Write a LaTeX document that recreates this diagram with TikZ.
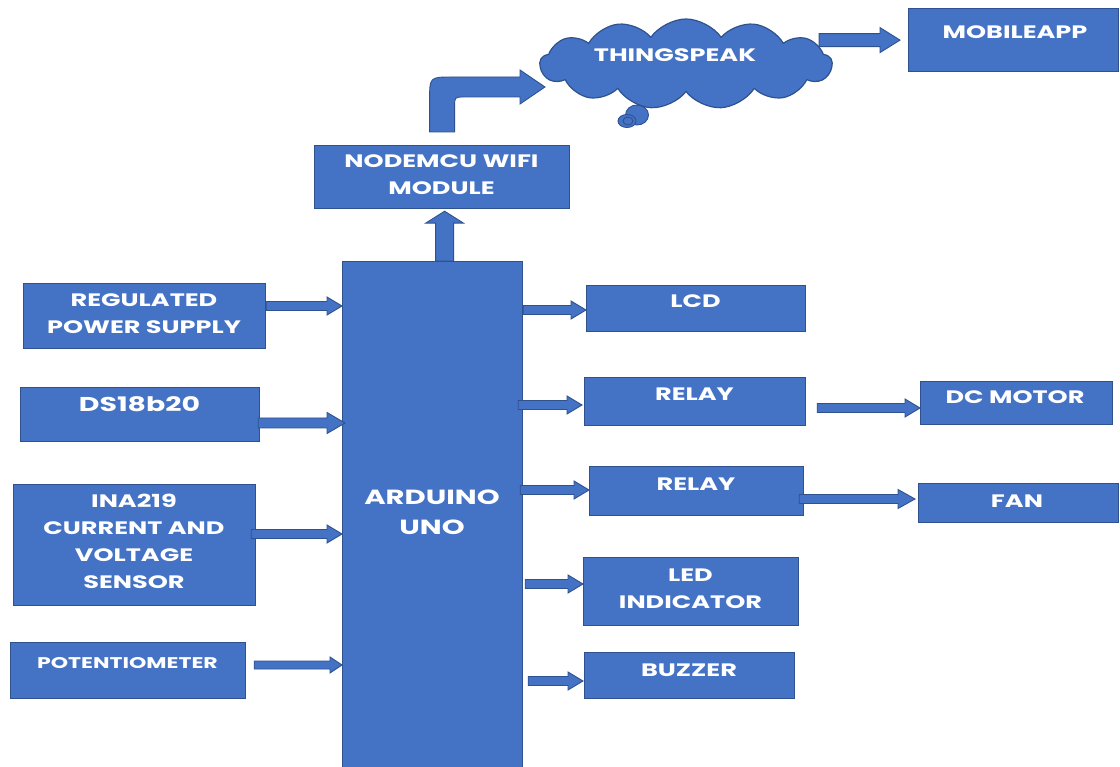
\documentclass[tikz,border=0pt]{standalone}
\usepackage{fontspec}
\newfontfamily\lblfont{Poppins}[FakeStretch=1.42]
\usetikzlibrary{shapes.symbols,calc}
\definecolor{bblue}{HTML}{4472C4}
\definecolor{bdark}{HTML}{2F528F}
\def\asw{4.5pt}\def\ahw{9pt}\def\ahl{15pt}
\tikzset{
  x={(1pt,0)}, y={(0,-1pt)},
  box/.style={draw=bdark, fill=bblue, line width=1.2pt, inner sep=0pt, anchor=north west},
  txt/.style={text=white, font=\lblfont\bfseries\fontsize{18}{27}\selectfont, align=center, inner sep=0pt},
  ashaft/.code={\def\asw{#1}},
  ahead/.code={\def\ahw{#1}},
  alen/.code={\def\ahl{#1}},
  arrowfill/.style={draw=bdark, fill=bblue, line width=0.9pt, line join=miter},
  harrow/.style={arrowfill,
    to path={let \p1=(\tikztostart), \p2=(\tikztotarget) in
      (\x1,\y1-\asw) -- (\x2-\ahl,\y1-\asw) -- (\x2-\ahl,\y1-\ahw) -- (\x2,\y1)
      -- (\x2-\ahl,\y1+\ahw) -- (\x2-\ahl,\y1+\asw) -- (\x1,\y1+\asw) -- cycle}},
  varrow/.style={arrowfill,
    to path={let \p1=(\tikztostart), \p2=(\tikztotarget) in
      (\x1-\asw,\y1) -- (\x1-\asw,\y2-\ahl) -- (\x1-\ahw,\y2-\ahl) -- (\x1,\y2)
      -- (\x1+\ahw,\y2-\ahl) -- (\x1+\asw,\y2-\ahl) -- (\x1+\asw,\y1) -- cycle}},
}
\begin{document}
\begin{tikzpicture}
\useasboundingbox (0,0) rectangle (1120,767);
\fill[white] (0,0) rectangle (1120,767);

% boxes
\node[box, minimum width=210pt, minimum height=63pt] (mob) at (908,8) {};
\node[box, minimum width=255pt, minimum height=63pt] (nm) at (314,145) {};
\node[box, minimum width=180pt, minimum height=515pt] (ard) at (342,261) {};
\node[box, minimum width=242pt, minimum height=65pt] (reg) at (23,283) {};
\node[box, minimum width=239pt, minimum height=54pt] (ds) at (20,387) {};
\node[box, minimum width=242pt, minimum height=121pt] (ina) at (13,484) {};
\node[box, minimum width=235pt, minimum height=56pt] (pot) at (10,642) {};
\node[box, minimum width=219pt, minimum height=46pt] (lcd) at (586,285) {};
\node[box, minimum width=221pt, minimum height=48pt] (rel1) at (584,377) {};
\node[box, minimum width=192pt, minimum height=43pt] (dcm) at (920,381) {};
\node[box, minimum width=214pt, minimum height=49pt] (rel2) at (589,466) {};
\node[box, minimum width=200pt, minimum height=39pt] (fan) at (918,483) {};
\node[box, minimum width=215pt, minimum height=68pt] (led) at (583,557) {};
\node[box, minimum width=210pt, minimum height=46pt] (buz) at (584,652) {};

% thought bubbles and cloud
\draw[arrowfill] (637,115) ellipse (11.5pt and 10pt);
\draw[arrowfill] (627,121) ellipse (9pt and 6.5pt);
\draw[bdark, line width=0.9pt] (628,121) ellipse (5pt and 4pt);
\node[cloud, draw=bdark, fill=bblue, line width=1.2pt, cloud puffs=13, cloud puff arc=110,
      aspect=3.1, minimum width=292pt, minimum height=90pt, inner sep=0pt] (cl) at (686,64) {};

% texts
\node[txt] (tmob) at (1015,32) {MOBILEAPP};
\node[txt] (tcl) at (675,55.5) {THINGSPEAK};
\node[txt] (tnm) at (441.5,175) {NODEMCU WIFI\\MODULE};
\node[txt, font=\lblfont\bfseries\fontsize{20.5}{30}\selectfont] (tard) at (432,512) {ARDUINO\\UNO};
\node[txt] (treg) at (144,313.5) {REGULATED\\POWER SUPPLY};
\node[txt, font=\lblfont\bfseries\fontsize{20}{27}\selectfont] (tds) at (139.5,404) {DS18b20};
\node[txt] (tina) at (134,541) {INA219\\CURRENT AND\\VOLTAGE\\SENSOR};
\node[txt, font=\lblfont\bfseries\fontsize{15.5}{20}\selectfont] (tpot) at (127.5,663) {POTENTIOMETER};
\node[txt] (tlcd) at (695.5,301) {LCD};
\node[txt] (trel1) at (694.5,394) {RELAY};
\node[txt] (tdcm) at (1015,397) {DC MOTOR};
\node[txt] (trel2) at (696,484) {RELAY};
\node[txt] (tfan) at (1017,501) {FAN};
\node[txt] (tled) at (690.5,589) {LED\\INDICATOR};
\node[txt] (tbuz) at (689,670) {BUZZER};

% input arrows
\path[harrow] (reg.east |- 0,306) to (ard.west |- 0,306);
\path[harrow, ashaft=5pt, ahead=10.5pt, alen=18pt] ([xshift=-2pt]ds.east |- 0,423) to ([xshift=3pt]ard.west |- 0,423);
\path[harrow] ([xshift=-5pt]ina.east |- 0,534) to (ard.west |- 0,534);
\path[harrow, ashaft=4pt, ahead=8pt, alen=12pt] ([xshift=8pt]pot.east |- 0,665) to (ard.west |- 0,665);

% output arrows
\path[harrow] (ard.east |- 0,310) to (lcd.west |- 0,310);
\path[harrow] ([xshift=-5pt]ard.east |- 0,405) to ([xshift=-2pt]rel1.west |- 0,405);
\path[harrow] ([xshift=-3pt]ard.east |- 0,490) to (rel2.west |- 0,490);
\path[harrow] ([xshift=2pt]ard.east |- 0,584) to (led.west |- 0,584);
\path[harrow] ([xshift=5pt]ard.east |- 0,681) to ([xshift=-1pt]buz.west |- 0,681);
\path[harrow] ([xshift=11pt]rel1.east |- 0,408) to (dcm.west |- 0,408);
\path[harrow, ahead=9.5pt, alen=17pt] ([xshift=-5pt]rel2.east |- 0,499) to ([xshift=-3pt]fan.west |- 0,499);

% up arrow to NodeMCU
\path[varrow, ashaft=9pt, ahead=19pt, alen=12pt] ([xshift=12pt]ard.north) to ([xshift=12pt,yshift=-2pt]ard.north |- nm.south);

% bent arrow NodeMCU -> ThingSpeak
\coordinate (ctip) at (545,87);
\path[arrowfill] let \p1=(nm.north), \p2=(ctip) in
  (\x1-12.5pt,\y1+13pt) -- (\x1-12.5pt,\y2-13pt)
  .. controls (\x1-12.5pt,\y2+10pt) .. (\x1+10pt,\y2+10pt)
  -- (\x2-25pt,\y2+10pt) -- (\x2-25pt,\y2+17pt) -- (\x2,\y2)
  -- (\x2-25pt,\y2-17pt) -- (\x2-25pt,\y2-10pt) -- (\x1+22pt,\y2-10pt)
  .. controls (\x1+12.5pt,\y2-10pt) .. (\x1+12.5pt,\y2-20pt)
  -- (\x1+12.5pt,\y1+13pt) -- cycle;

% cloud -> mobile app
\path[harrow, ashaft=6.5pt, ahead=12.5pt, alen=20pt] ([xshift=-14pt]cl.east |- mob.west) to ([xshift=-8pt]mob.west);
\end{tikzpicture}
\end{document}
